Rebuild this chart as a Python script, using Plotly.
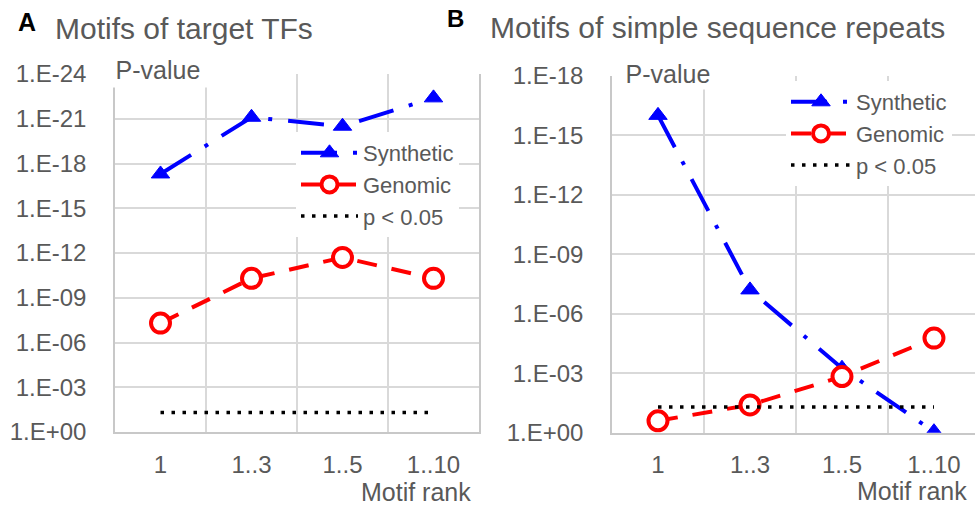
import plotly.graph_objects as go

# ---------------- data ----------------
ranks = ["1", "1..3", "1..5", "1..10"]
# values are -log10(P-value)
tf_synthetic = [17.3, 21.1, 20.5, 22.4]
tf_genomic = [7.3, 10.3, 11.7, 10.3]
ssr_synthetic = [16.0, 7.2, 3.25, 0.05]
ssr_genomic = [0.6, 1.4, 2.83, 4.77]
threshold = [1.3, 1.3, 1.3, 1.3]  # p = 0.05

left_tickvals = [0, 3, 6, 9, 12, 15, 18, 21, 24]
left_ticktext = ["1.E+00", "1.E-03", "1.E-06", "1.E-09", "1.E-12",
                 "1.E-15", "1.E-18", "1.E-21", "1.E-24"]
right_tickvals = [0, 3, 6, 9, 12, 15, 18]
right_ticktext = ["1.E+00", "1.E-03", "1.E-06", "1.E-09", "1.E-12",
                  "1.E-15", "1.E-18"]

# ---------------- style ----------------
FONT = "Arial, Liberation Sans, sans-serif"
GRAY = "#595959"
GRID = "#d9d9d9"
AXL = "#c8c8c8"
BLUE = "#0000FF"
RED = "#FF0000"
W, H = 975, 506


def px_x(p):
    return p / W


def px_y(p):
    return 1 - p / H


fig = go.Figure()

panels = [
    ("x", "y", "legend", tf_synthetic, tf_genomic),
    ("x2", "y2", "legend2", ssr_synthetic, ssr_genomic),
]
for xa, ya, lg, syn, gen in panels:
    fig.add_trace(go.Scatter(
        x=ranks, y=syn, xaxis=xa, yaxis=ya, legend=lg, name="Synthetic",
        mode="lines+markers",
        line=dict(color=BLUE, width=4, dash="36px,16px,4px,16px"),
        marker=dict(symbol="triangle-up", size=16, color=BLUE,
                    line=dict(color=BLUE, width=1)),
    ))
    fig.add_trace(go.Scatter(
        x=ranks, y=gen, xaxis=xa, yaxis=ya, legend=lg, name="Genomic",
        mode="lines+markers",
        line=dict(color=RED, width=4, dash="20px,15px"),
        marker=dict(symbol="circle", size=19, color="white",
                    line=dict(color=RED, width=4)),
    ))
    fig.add_trace(go.Scatter(
        x=ranks, y=threshold, xaxis=xa, yaxis=ya, legend=lg, name="p < 0.05",
        mode="lines",
        line=dict(color="black", width=3.5, dash="3.5px,7.5px"),
    ))

common_x = dict(
    type="category", categoryorder="array", categoryarray=ranks,
    tickson="boundaries", showgrid=True, gridcolor=GRID, gridwidth=1.5,
    showline=True, linecolor=AXL, linewidth=1.5, ticks="",
    tickfont=dict(family=FONT, size=24, color=GRAY), ticklabelstandoff=10,
    zeroline=False, fixedrange=True, automargin=False,
)
common_y = dict(
    showgrid=True, gridcolor=GRID, gridwidth=1.5, showline=True, mirror=True,
    linecolor=AXL, linewidth=1.5, ticks="", zeroline=False,
    tickfont=dict(family=FONT, size=24, color=GRAY), ticklabelstandoff=22,
    fixedrange=True, automargin=False,
)

fig.update_layout(
    width=W, height=H, autosize=False,
    margin=dict(l=0, r=0, t=0, b=0, pad=0, autoexpand=False),
    paper_bgcolor="white", plot_bgcolor="white",
    showlegend=True,
    xaxis=dict(common_x, domain=[px_x(115), px_x(479)], range=[-0.5, 3.5], anchor="y"),
    yaxis=dict(common_y, domain=[px_y(432), px_y(74)], range=[0, 24],
               tickvals=left_tickvals, ticktext=left_ticktext, anchor="x"),
    xaxis2=dict(common_x, domain=[px_x(612), 1.0], range=[-0.5, 3.446], anchor="y2"),
    yaxis2=dict(common_y, domain=[px_y(432.7), px_y(75.7)], range=[0, 18],
                tickvals=right_tickvals, ticktext=right_ticktext, anchor="x2"),
    legend=dict(x=px_x(296), y=px_y(132), xanchor="left", yanchor="top",
                bgcolor="white", borderwidth=0, itemwidth=57,
                font=dict(family=FONT, size=22, color=GRAY),
                tracegroupgap=0),
    legend2=dict(x=px_x(786), y=px_y(81), xanchor="left", yanchor="top",
                 bgcolor="white", borderwidth=0, itemwidth=60,
                 font=dict(family=FONT, size=22, color=GRAY),
                 tracegroupgap=0),
)


def label(text, x, y, size, color=GRAY, xanchor="center", **kw):
    return dict(text=text, x=px_x(x), y=px_y(y), xref="paper", yref="paper",
                xanchor=xanchor, yanchor="middle", showarrow=False,
                font=dict(family=FONT, size=size, color=color), **kw)


ann = [
    # panel letters
    label("<b>A</b>", 26.5, 22, 25, color="black"),
    label("<b>B</b>", 455.5, 18.5, 24, color="black"),
    # titles
    label("Motifs of target TFs", 53, 28, 30, xanchor="left"),
    label("Motifs of simple sequence repeats", 488, 27, 30, xanchor="left"),
    # P-value labels (white box hides the grid behind them)
    label("P-value", 158, 70, 25, bgcolor="white", width=104, height=32),
    label("P-value", 668, 74, 25, bgcolor="white", width=104, height=28),
    # axis titles
    label("Motif rank", 473, 492, 25, xanchor="right"),
    label("Motif rank", 969, 491, 25, xanchor="right"),
]
fig.update_layout(annotations=ann)

fig.write_html("out.html")
